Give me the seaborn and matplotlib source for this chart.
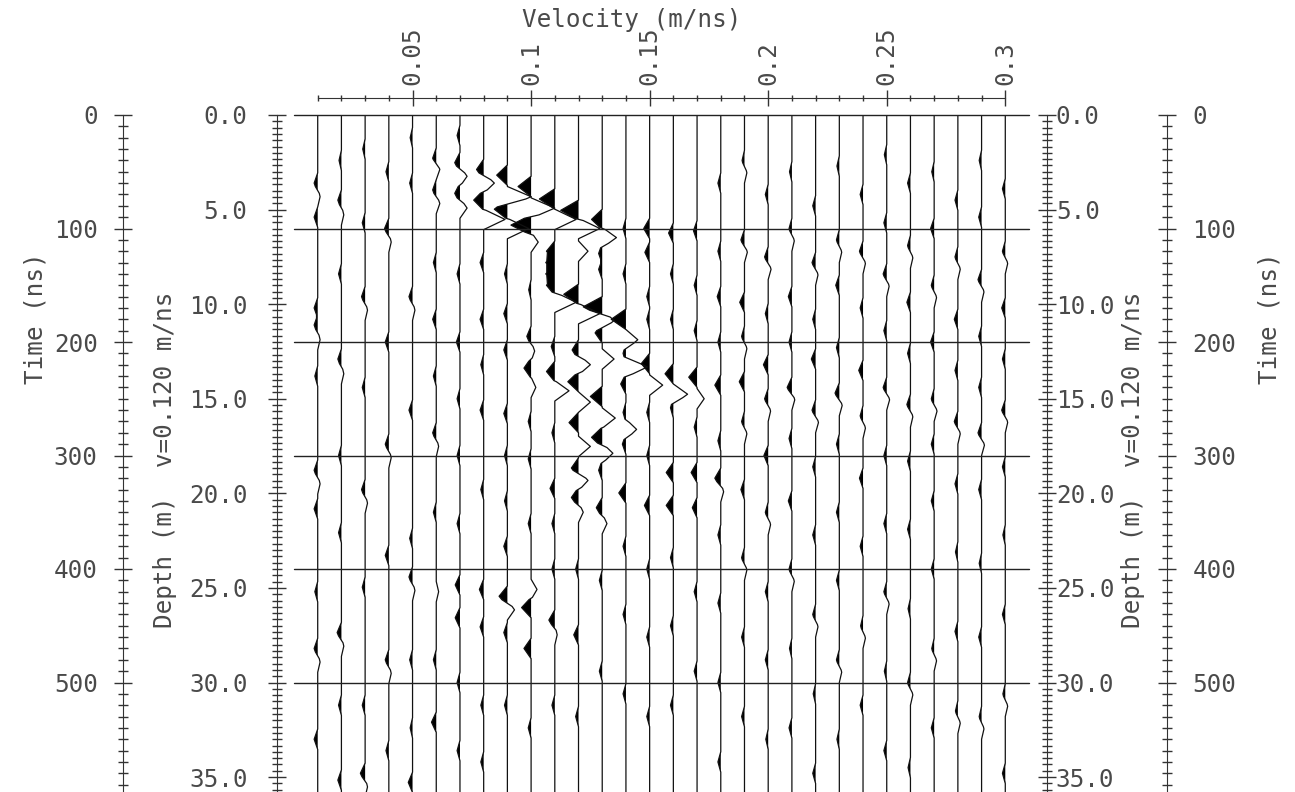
import numpy as np
import pandas as pd
import seaborn as sns
import matplotlib.pyplot as plt
from matplotlib.ticker import MultipleLocator, FixedLocator

sns.set_style("white")
plt.rcParams['font.family'] = ['DejaVu Sans Mono', 'DejaVu Sans']

W, H = 1295, 792
TXT = '#4a4a4a'

# trace velocities (m/ns), one wiggle trace each
velocities = [0.01, 0.02, 0.03, 0.04, 0.05, 0.06, 0.07, 0.08, 0.09, 0.10,
              0.11, 0.12, 0.13, 0.14, 0.15, 0.16, 0.17, 0.18, 0.19, 0.20,
              0.21, 0.22, 0.23, 0.24, 0.25, 0.26, 0.27, 0.28, 0.29, 0.30]

# wavelet lobes read off the section, one list per trace:
# two-way time (ns) and amplitude in trace spacings (negative = black lobe)
lobe_times = [
    [60, 72, 90, 170, 185, 198, 230, 313, 325, 347, 420, 470, 482, 550],
    [40, 75, 88, 140, 215, 228, 300, 368, 456, 468, 520, 586],
    [30, 95, 160, 172, 240, 330, 342, 416, 520, 580, 592],
    [50, 100, 112, 200, 290, 302, 388, 480, 492, 560],
    [20, 60, 160, 172, 260, 373, 407, 419, 480, 540, 588],
    [38, 48, 66, 78, 130, 180, 230, 280, 292, 350, 420, 480, 535],
    [18, 42, 54, 69, 82, 140, 200, 250, 300, 360, 414, 443, 500, 560],
    [48, 60, 75, 92, 130, 180, 220, 260, 330, 418, 451, 520, 570],
    [53, 72, 83, 100, 140, 175, 207, 263, 300, 340, 380, 424, 436, 456, 520],
    [63, 82, 97, 112, 154, 195, 208, 223, 240, 270, 303, 360, 418, 434, 470, 540],
    [74, 92, 120, 130, 140, 150, 165, 204, 226, 243, 280, 329, 360, 400, 445, 458, 520],
    [84, 100, 120, 158, 175, 207, 220, 235, 253, 271, 292, 311, 322, 337, 350, 400, 458, 530],
    [92, 108, 122, 136, 169, 181, 192, 215, 248, 267, 284, 298, 313, 346, 360, 410, 490],
    [100, 140, 180, 198, 210, 222, 237, 262, 277, 290, 333, 380, 440, 510],
    [100, 121, 160, 180, 219, 238, 262, 300, 344, 400, 460, 530],
    [104, 140, 180, 228, 246, 258, 315, 344, 390, 450, 520],
    [102, 150, 190, 231, 250, 275, 315, 346, 420, 490],
    [60, 120, 160, 200, 238, 287, 320, 332, 370, 430, 500, 570],
    [40, 51, 110, 121, 165, 195, 206, 235, 270, 281, 330, 390, 401, 460, 530],
    [70, 125, 136, 175, 220, 250, 261, 300, 350, 361, 420, 480, 550],
    [50, 100, 111, 160, 200, 240, 251, 285, 340, 400, 411, 470, 540],
    [80, 130, 141, 180, 215, 260, 271, 310, 370, 440, 451, 510, 580],
    [45, 110, 121, 150, 205, 245, 256, 290, 350, 410, 480, 491, 550],
    [70, 120, 131, 170, 225, 265, 276, 320, 380, 450, 461, 520],
    [35, 95, 140, 151, 190, 240, 251, 300, 360, 420, 431, 490, 560],
    [60, 115, 126, 165, 210, 255, 266, 305, 365, 435, 500, 511, 575],
    [50, 100, 150, 161, 200, 250, 261, 290, 340, 400, 470, 481, 540],
    [75, 125, 136, 180, 225, 270, 281, 325, 385, 455, 525, 536],
    [40, 90, 145, 156, 195, 240, 280, 291, 330, 395, 460, 530, 541],
    [65, 120, 131, 170, 215, 260, 271, 310, 370, 440, 510, 521, 580],
]
lobe_amps = [
    [-0.15, 0.1, -0.15, -0.15, -0.15, 0.1, -0.12, -0.15, 0.1, -0.15, -0.12, -0.15, 0.1, -0.15],
    [-0.1, -0.15, 0.1, -0.12, -0.15, 0.1, -0.12, -0.12, -0.18, 0.1, -0.12, -0.15],
    [-0.1, -0.12, -0.15, 0.1, -0.12, -0.15, 0.1, -0.12, -0.12, -0.2, 0.1],
    [-0.12, -0.18, 0.1, -0.15, -0.15, 0.1, -0.15, -0.15, 0.1, -0.12],
    [-0.1, -0.12, -0.15, 0.1, -0.15, -0.12, -0.15, 0.1, -0.12, -0.1, -0.18],
    [-0.15, 0.15, -0.15, 0.15, -0.12, -0.15, -0.12, -0.15, 0.1, -0.12, 0.1, -0.12, -0.2],
    [-0.12, -0.22, 0.3, -0.22, 0.3, -0.12, -0.15, -0.12, -0.12, -0.12, -0.2, -0.2, -0.12, -0.12],
    [-0.3, 0.45, -0.42, 0.9, -0.15, -0.15, -0.12, -0.15, -0.12, -0.18, -0.15, -0.12, -0.12],
    [-0.45, 1.0, -0.55, 0.9, -0.12, -0.15, -0.15, -0.15, -0.12, -0.12, -0.15, -0.35, 0.3, -0.15, -0.12],
    [-0.55, 1.0, -0.85, 0.3, -0.1, -0.18, 0.15, -0.3, 0.2, -0.12, -0.12, -0.12, 0.25, -0.4, -0.3, -0.12],
    [-0.65, 0.9, -0.35, -0.38, -0.38, -0.35, 0.9, -0.15, -0.35, 0.6, -0.12, -0.2, -0.12, -0.12, -0.25, 0.1, -0.12],
    [-0.75, 0.9, 0.4, -0.62, 0.9, -0.27, 0.5, -0.45, 0.5, -0.4, 0.5, -0.3, 0.4, -0.3, 0.2, -0.12, -0.2, -0.12],
    [-0.45, 0.6, -0.15, -0.15, -0.8, 0.5, -0.3, 0.5, -0.5, 0.55, -0.45, 0.45, -0.15, -0.25, 0.2, -0.12, -0.12],
    [-0.12, -0.12, -0.62, 0.5, -0.12, 0.9, -0.22, -0.12, 0.45, -0.15, -0.3, -0.12, -0.12, -0.12],
    [-0.25, -0.2, -0.12, -0.12, -0.35, 0.55, -0.12, -0.12, -0.22, -0.12, -0.12, -0.12],
    [-0.2, -0.12, -0.12, -0.35, 0.6, -0.12, -0.3, -0.3, -0.12, -0.12, -0.12],
    [-0.15, -0.12, -0.12, -0.35, 0.3, -0.12, -0.25, -0.2, -0.12, -0.12],
    [-0.12, -0.12, -0.15, -0.12, -0.25, -0.12, -0.25, 0.12, -0.12, -0.12, -0.12, -0.12],
    [-0.1, 0.1, -0.15, 0.12, -0.2, -0.12, 0.1, -0.22, -0.12, 0.1, -0.15, -0.12, 0.1, -0.12, -0.12],
    [-0.12, -0.15, 0.12, -0.12, -0.2, -0.15, 0.1, -0.18, -0.12, 0.1, -0.12, -0.12, -0.1],
    [-0.1, -0.12, 0.1, -0.15, -0.12, -0.2, 0.12, -0.12, -0.15, -0.12, 0.1, -0.1, -0.12],
    [-0.12, -0.15, 0.1, -0.12, -0.18, -0.15, 0.12, -0.12, -0.12, -0.12, 0.1, -0.1, -0.12],
    [-0.1, -0.12, 0.1, -0.15, -0.12, -0.18, 0.12, -0.12, -0.12, -0.12, -0.12, 0.1, -0.1],
    [-0.12, -0.15, 0.1, -0.12, -0.18, -0.12, 0.1, -0.15, -0.12, -0.1, 0.1, -0.12],
    [-0.1, -0.12, -0.15, 0.1, -0.12, -0.15, 0.12, -0.12, -0.12, -0.12, 0.1, -0.1, -0.12],
    [-0.12, -0.12, 0.1, -0.15, -0.12, -0.15, 0.1, -0.12, -0.12, -0.1, -0.12, 0.1, -0.1],
    [-0.1, -0.15, -0.12, 0.1, -0.15, -0.12, 0.12, -0.12, -0.12, -0.12, -0.1, 0.1, -0.12],
    [-0.12, -0.12, 0.1, -0.15, -0.12, -0.15, 0.1, -0.12, -0.1, -0.12, -0.1, 0.1],
    [-0.1, -0.12, -0.15, 0.1, -0.12, -0.12, -0.15, 0.12, -0.12, -0.1, -0.12, -0.1, 0.1],
    [-0.12, -0.12, 0.1, -0.15, -0.12, -0.15, 0.1, -0.12, -0.1, -0.12, -0.1, 0.1, -0.12],
]

time_ticks = [0, 100, 200, 300, 400, 500]
depth_ticks = [0, 5, 10, 15, 20, 25, 30, 35]
vel_ticks = [0.05, 0.10, 0.15, 0.20, 0.25, 0.30]
vel_labels = ['0.05', '0.1', '0.15', '0.2', '0.25', '0.3']
v_mig = 0.120

# ---- build traces (each lobe is a triangular pulse, half width 9 ns)
t = np.arange(0, 601, 1.0)
rows = []
for v, times, amps in zip(velocities, lobe_times, lobe_amps):
    s = np.zeros_like(t)
    for t0, a in zip(times, amps):
        s += a * np.clip(1 - np.abs(t - t0) / 9.0, 0, None)
    rows.append(pd.DataFrame({'trace': v, 'time': t, 'x': v + 0.01 * s}))
traces = pd.concat(rows, ignore_index=True)

# ---- figure / axes in pixel geometry
fig = plt.figure(figsize=(W / 100, H / 100), dpi=100)
y0 = 115            # pixel row of t = 0
tmax = (H - y0) / 1.135
axh = (H - y0) / H

ax = fig.add_axes([294 / W, 0, 735 / W, axh])
sns.lineplot(data=traces, x='x', y='time', units='trace', estimator=None,
             sort=False, orient='y', color='#111', lw=0.9, ax=ax, legend=False)
for v, g in traces.groupby('trace'):
    ax.fill_betweenx(g.time, v, g.x, where=g.x < v, interpolate=True,
                     color='black', lw=0)
for tt in time_ticks:
    ax.axhline(tt, color='#222', lw=1.0, clip_on=False)
ax.set_xlim(0, 0.31)
ax.set_ylim(tmax, 0)
ax.axis('off')


def ruler(xpix, side, ylim, major, minor, fmt, pad):
    a = fig.add_axes([xpix / W, 0, 1e-4, axh])
    a.set_ylim(*ylim)
    for sp in a.spines.values():
        sp.set_visible(False)
    a.spines[side].set_visible(True)
    a.spines[side].set_color('#333')
    a.set_xticks([])
    a.yaxis.set_major_locator(FixedLocator(major))
    a.yaxis.set_minor_locator(MultipleLocator(minor))
    a.set_yticklabels([fmt % m for m in major])
    if side == 'right':
        a.yaxis.tick_right()
    else:
        a.yaxis.tick_left()
    a.tick_params(axis='y', which='both', left=(side == 'left'),
                  right=(side == 'right'))
    a.tick_params(axis='y', which='major', direction='inout', length=12.5,
                  width=1.0, colors='#333', labelcolor=TXT, labelsize=17.5, pad=pad)
    a.tick_params(axis='y', which='minor', direction='inout', length=6.5,
                  width=1.0, colors='#333')
    a.patch.set_visible(False)
    return a


ruler(123, 'left', (tmax, 0), time_ticks, 10, '%d', 12)
ruler(277, 'left', (tmax * v_mig / 2, 0), depth_ticks, 5 / 15, '%.1f', 15)
ruler(1047, 'right', (tmax * v_mig / 2, 0), depth_ticks, 5 / 15, '%.1f', 0)
ruler(1167, 'right', (tmax, 0), time_ticks, 10, '%d', 12)

# top velocity ruler
av = fig.add_axes([294 / W, 1 - 98 / H, 735 / W, 1e-4])
av.set_xlim(0, 0.31)
for sp in av.spines.values():
    sp.set_visible(False)
av.spines['top'].set_visible(True)
av.spines['top'].set_bounds(0.01, 0.30)
av.spines['top'].set_color('#333')
av.set_yticks([])
av.xaxis.tick_top()
av.xaxis.set_major_locator(FixedLocator(vel_ticks))
av.xaxis.set_minor_locator(FixedLocator(velocities))
av.set_xticklabels(vel_labels)
av.tick_params(axis='x', which='major', direction='inout', length=12, width=1.0,
               colors='#333', labelcolor=TXT, labelsize=17.5, labelrotation=90, pad=3)
av.tick_params(axis='x', which='minor', direction='inout', length=5, width=1.0,
               colors='#333')
av.patch.set_visible(False)


def label(xp, yp, s, rot=0):
    fig.text(xp / W, 1 - yp / H, s, rotation=rot, ha='center', va='center',
             fontsize=17.5, color=TXT)


label(632, 20, 'Velocity (m/ns)')
label(35, 318, 'Time (ns)', 90)
label(1270, 318, 'Time (ns)', 90)
label(165, 460, 'Depth (m)  v=0.120 m/ns', 90)
label(1133, 460, 'Depth (m)  v=0.120 m/ns', 90)

fig.savefig('out.png', dpi=100)
